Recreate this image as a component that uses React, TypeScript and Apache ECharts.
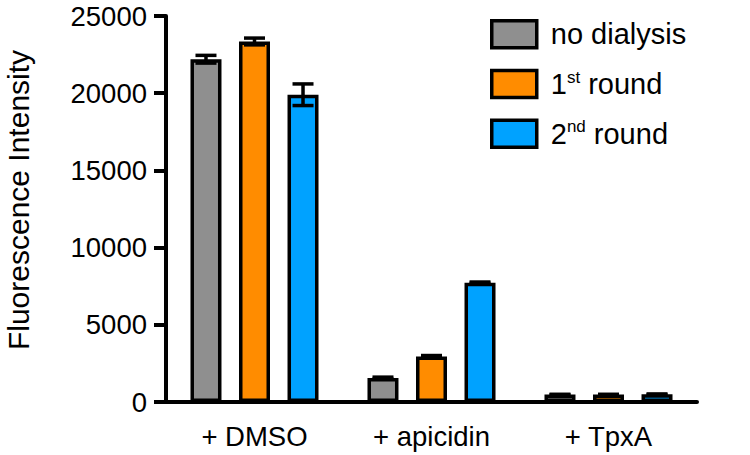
import React, { useEffect, useRef } from "react";
import * as echarts from "echarts";

const categories = ["+ DMSO", "+ apicidin", "+ TpxA"];
const seriesNames = ["no dialysis", "1st round", "2nd round"];
const legendLabels = ["no dialysis", "1{sup|st} round", "2{sup|nd} round"];
const noDialysis = [22200, 1550, 480];
const round1 = [23350, 2950, 480];
const round2 = [19900, 7730, 500];
const noDialysisErr = [250, 60, 20];
const round1Err = [220, 60, 20];
const round2Err = [700, 40, 20];
const colors = ["#8f8f8f", "#ff8c00", "#00a2ff"];
const yTicks = { min: 0, max: 25000, interval: 5000 };

const FONT = "Liberation Sans, Arial, sans-serif";
const BAR_W = 31;
const BAR_GAP = 0.565;

export default function App() {
  const ref = useRef<HTMLDivElement>(null);
  useEffect(() => {
    if (!ref.current) return;
    const chart = echarts.init(ref.current, undefined, { renderer: "svg" });
    const values = [noDialysis, round1, round2];
    const errs = [noDialysisErr, round1Err, round2Err];
    const pitch = BAR_W * (1 + BAR_GAP);

    const barSeries = seriesNames.map((name, i) => ({
      name,
      type: "bar",
      data: values[i],
      barWidth: BAR_W,
      barGap: BAR_GAP * 100 + "%",
      itemStyle: { color: colors[i], borderColor: "#000", borderWidth: 3.5 },
      z: 2,
    }));

    const errSeries = seriesNames.map((name, i) => ({
      name: name + "_err",
      type: "custom",
      z: 5,
      silent: true,
      data: values[i].map((v, j) => [j, v - errs[i][j], v + errs[i][j]]),
      renderItem: (params: any, api: any) => {
        const x = api.value(0);
        const lo = api.coord([x, api.value(1)]);
        const hi = api.coord([x, api.value(2)]);
        const cx = lo[0] + (i - 1) * pitch;
        const half = 10.5;
        const style = { stroke: "#000", lineWidth: 3.5, fill: null };
        return {
          type: "group",
          children: [
            { type: "line", shape: { x1: cx, y1: lo[1], x2: cx, y2: hi[1] }, style },
            { type: "line", shape: { x1: cx - half, y1: hi[1], x2: cx + half, y2: hi[1] }, style },
            { type: "line", shape: { x1: cx - half, y1: lo[1], x2: cx + half, y2: lo[1] }, style },
          ],
        };
      },
    }));

    chart.setOption({
      animation: false,
      textStyle: { fontFamily: FONT },
      grid: { left: 166, right: 53, top: 16, bottom: 53, containLabel: false, outerBoundsMode: "none" },
      legend: {
        data: seriesNames,
        orient: "vertical",
        left: 485,
        top: 14,
        itemWidth: 45,
        itemHeight: 27,
        itemGap: 19,
        icon: "rect",
        itemStyle: { borderColor: "#000", borderWidth: 3.5 },
        formatter: (n: string) => legendLabels[seriesNames.indexOf(n)],
        textStyle: {
          fontFamily: FONT,
          fontSize: 29,
          color: "#000",
          padding: [0, 0, 0, 9],
          rich: {
            sup: { fontSize: 17, fontFamily: FONT, color: "#000", verticalAlign: "bottom", padding: [0, 0, 14, 0] },
          },
        },
      },
      xAxis: {
        type: "category",
        data: categories,
        axisLine: { lineStyle: { color: "#000", width: 4 } },
        axisTick: { alignWithLabel: true, length: 13, lineStyle: { color: "#000", width: 4 } },
        axisLabel: { fontSize: 27.5, color: "#000", margin: 20, fontFamily: FONT },
      },
      yAxis: {
        type: "value",
        min: yTicks.min,
        max: yTicks.max,
        interval: yTicks.interval,
        splitLine: { show: false },
        axisLine: { show: true, lineStyle: { color: "#000", width: 4 } },
        axisTick: { show: true, length: 12, lineStyle: { color: "#000", width: 4 } },
        axisLabel: { fontSize: 27.5, color: "#000", margin: 19, fontFamily: FONT, formatter: (v: number) => String(v) },
        name: "Fluorescence Intensity",
        nameLocation: "middle",
        nameRotate: 90,
        nameGap: 133,
        nameTextStyle: { fontSize: 30, color: "#000", fontFamily: FONT, padding: [0, 0, 0, 18] },
      },
      series: [...barSeries, ...errSeries],
    });
    return () => chart.dispose();
  }, []);
  return <div ref={ref} style={{ width: 750, height: 455, position: "absolute", left: 0, top: 0 }} />;
}
